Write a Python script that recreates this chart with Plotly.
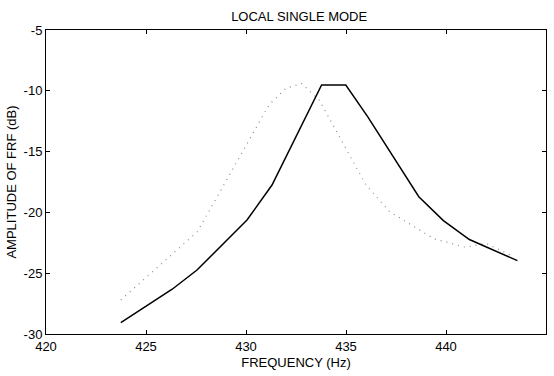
import plotly.graph_objects as go

# Solid curve
freq_solid = [423.74, 426.31, 427.55, 430.05, 431.3, 433.78, 434.99, 436.09, 438.64, 439.87, 441.17, 443.57]
amp_solid = [-29.07, -26.32, -24.74, -20.63, -17.75, -9.52, -9.52, -12.15, -18.71, -20.67, -22.23, -23.97]

# Dotted curve
freq_dot = [423.74, 427.57, 431.16, 432.0, 432.78, 433.66, 436.0, 437.18, 439.42, 441.0, 442.0, 443.32]
amp_dot = [-27.2, -21.59, -11.13, -9.79, -9.4, -10.76, -17.75, -19.94, -22.19, -22.87, -22.54, -23.59]

x_ticks = [420, 425, 430, 435, 440, 445]
y_ticks = [-30, -25, -20, -15, -10, -5]

font_family = "Liberation Sans, Arial, Helvetica, sans-serif"

fig = go.Figure()
fig.add_trace(go.Scatter(x=freq_dot, y=amp_dot, mode="lines",
                         line=dict(color="#8a8a8a", width=1.2, dash="1px,5px"),
                         showlegend=False))
fig.add_trace(go.Scatter(x=freq_solid, y=amp_solid, mode="lines",
                         line=dict(color="black", width=1.5),
                         showlegend=False))

axis_common = dict(showgrid=False, zeroline=False, showline=True, linecolor="black",
                   linewidth=1, mirror="ticks", ticks="inside", ticklen=4,
                   tickcolor="black", tickfont=dict(family=font_family, size=13, color="black"))

fig.update_layout(
    width=554, height=376,
    margin=dict(l=46, r=8, t=30, b=42),
    paper_bgcolor="white", plot_bgcolor="white",
    font=dict(family=font_family, size=13, color="black"),
    title=dict(text="LOCAL SINGLE MODE", x=0.54, xanchor="center",
               y=1 - 16 / 376, yanchor="middle", yref="container",
               font=dict(family=font_family, size=13, color="black")),
    xaxis=dict(range=[420, 445], tickvals=x_ticks, ticktext=[str(v) for v in x_ticks],
               title=dict(text="FREQUENCY (Hz)", standoff=5,
                          font=dict(family=font_family, size=13)),
               **axis_common),
    yaxis=dict(range=[-30, -5], tickvals=y_ticks, ticktext=[str(v) for v in y_ticks],
               title=dict(text="AMPLITUDE OF FRF (dB)", standoff=4,
                          font=dict(family=font_family, size=13)),
               **axis_common),
)

fig.write_html("out.html")
